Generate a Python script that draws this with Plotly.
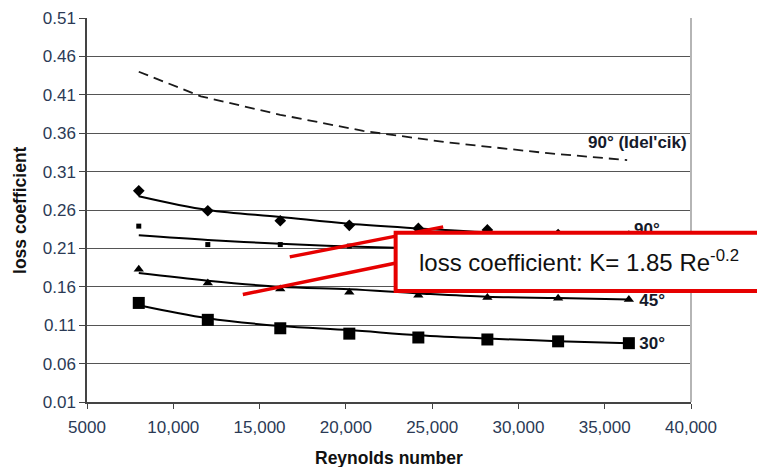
import plotly.graph_objects as go

# Data
re_x = [8000, 12000, 16200, 20200, 24200, 28200, 32300, 36400]
idelcik_x = [8000, 11600, 16200, 21000, 25900, 31700, 36300]
idelcik_k = [0.440, 0.408, 0.384, 0.363, 0.348, 0.334, 0.325]

k90 = [0.285, 0.259, 0.246, 0.240, 0.236, 0.234, 0.228, 0.226]
k90_fit = [0.278, 0.260, 0.251, 0.242, 0.236, 0.231, 0.228, 0.226]
k60 = [0.239, 0.215, 0.215, 0.213, 0.212, 0.211, 0.210, 0.209]
k60_fit = [0.227, 0.221, 0.216, 0.2125, 0.210, 0.208, 0.207, 0.206]
k45 = [0.183, 0.165, 0.157, 0.153, 0.149, 0.146, 0.145, 0.1436]
k45_fit = [0.178, 0.168, 0.160, 0.1567, 0.1514, 0.147, 0.1453, 0.1436]
k30 = [0.139, 0.117, 0.106, 0.099, 0.094, 0.0914, 0.089, 0.0866]
k30_fit = [0.136, 0.119, 0.109, 0.1036, 0.097, 0.0927, 0.0892, 0.0866]

label_text = ["90° (Idel'cik)", "90°", "45°", "30°"]
label_x = [39750, 36700, 37000, 37000]
label_y = [0.346, 0.2335, 0.141, 0.0845]
label_pos = ["middle left", "middle right", "middle right", "middle right"]

x_ticks = [5000, 10000, 15000, 20000, 25000, 30000, 35000, 40000]
x_ticktext = ["5000", "10,000", "15,000", "20,000", "25,000", "30,000", "35,000", "40,000"]
y_ticks = [0.01, 0.06, 0.11, 0.16, 0.21, 0.26, 0.31, 0.36, 0.41, 0.46, 0.51]

FONT = "Liberation Sans, Arial, sans-serif"
RED = "#e60000"
TICKC = "#2b3a55"

fig = go.Figure()

fig.add_trace(go.Scatter(x=idelcik_x, y=idelcik_k, mode="lines",
                         line=dict(color="#1a1a1a", width=1.8, dash="10px,6px"),
                         showlegend=False))

for fit in [k90_fit, k60_fit, k45_fit, k30_fit]:
    fig.add_trace(go.Scatter(x=re_x, y=fit, mode="lines",
                             line=dict(color="#000", width=2, shape="spline"),
                             showlegend=False))

for vals, sym, size in [(k90, "diamond", 9), (k60, "square", 5),
                        (k45, "triangle-up", 9), (k30, "square", 12)]:
    fig.add_trace(go.Scatter(x=re_x, y=vals, mode="markers",
                             marker=dict(symbol=sym, size=size, color="#000"),
                             showlegend=False))

for t, xx, yy, pos in zip(label_text, label_x, label_y, label_pos):
    fig.add_trace(go.Scatter(x=[xx], y=[yy], mode="text", text=["<b>" + t + "</b>"],
                             textposition=pos,
                             textfont=dict(family=FONT, size=17, color="#151a2a"),
                             showlegend=False))

ann = [
    dict(x=0.547, xref="paper", y=0.1935, yref="y", xanchor="left", yanchor="middle",
         text="loss coefficient: K= 1.85 Re<sup>-0.2</sup>", showarrow=False,
         font=dict(family=FONT, size=24, color="#111")),
    dict(x=0.5, xref="paper", y=-0.146, yref="paper", xanchor="center", yanchor="middle",
         text="<b>Reynolds number</b>", showarrow=False,
         font=dict(family=FONT, size=17.5, color="#111")),
    dict(x=-0.111, xref="paper", y=0.5, yref="paper", xanchor="center", yanchor="middle",
         text="<b>loss coefficient</b>", showarrow=False, textangle=-90,
         font=dict(family=FONT, size=17.5, color="#111")),
]

shapes = [
    # right border of plot area
    dict(type="line", xref="paper", yref="paper", x0=1, x1=1, y0=0, y1=1,
         line=dict(color="#b5b5b5", width=2), layer="above"),
    # red pointer lines
    dict(type="line", xref="x", yref="y", x0=16750, y0=0.199, x1=25640, y1=0.238,
         line=dict(color=RED, width=3.5), layer="above"),
    dict(type="line", xref="x", yref="y", x0=14030, y0=0.150, x1=22910, y1=0.191,
         line=dict(color=RED, width=3.5), layer="above"),
    # red box
    dict(type="rect", xref="paper", yref="y", x0=0.511, x1=1.2, y0=0.1544, y1=0.2305,
         line=dict(color=RED, width=4), fillcolor="white", layer="above"),
]

fig.update_layout(
    width=757, height=467,
    margin=dict(l=87, r=66, t=18, b=65),
    paper_bgcolor="white", plot_bgcolor="white",
    font=dict(family=FONT, color=TICKC, size=17),
    annotations=ann, shapes=shapes,
    xaxis=dict(range=[5000, 40000], tickvals=x_ticks, ticktext=x_ticktext,
               showgrid=False, zeroline=False, showline=True, linecolor="#444",
               linewidth=1.5, ticks="outside", ticklen=5, tickcolor="#444",
               ticklabelstandoff=4,
               tickfont=dict(size=17, color=TICKC), automargin=False),
    yaxis=dict(range=[0.01, 0.51], tickvals=y_ticks, tickformat=".2f",
               showgrid=True, gridcolor="#555", gridwidth=1, zeroline=False,
               showline=True, linecolor="#444", linewidth=1.5,
               ticks="outside", ticklen=6, tickcolor="#444",
               tickfont=dict(size=17, color=TICKC), automargin=False),
)

fig.write_html("out.html")
